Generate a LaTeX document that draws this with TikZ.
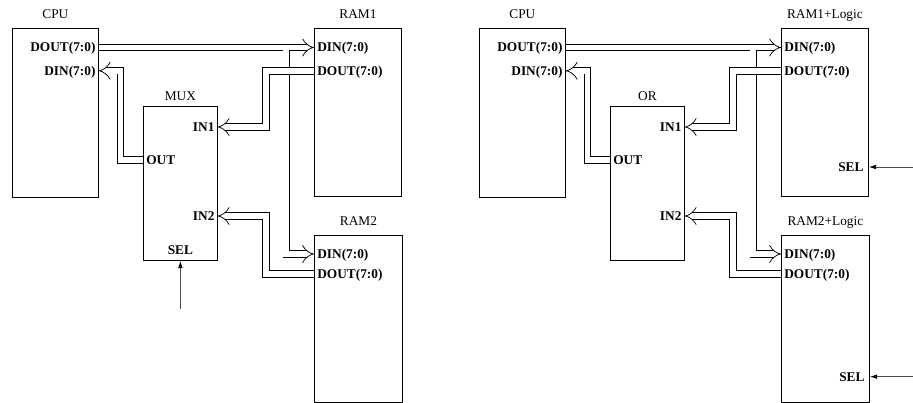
\documentclass[tikz,border=0pt]{standalone}
\usepackage{fontspec}
\setmainfont{Liberation Serif}
\usetikzlibrary{arrows.meta, positioning}

\begin{document}
\begin{tikzpicture}[x=0.75pt, y=-0.75pt, line width=0.6pt,
    blk/.style={draw, anchor=north west, inner sep=0pt},
    boxname/.style={anchor=base, inner sep=0pt},
    port/.style={font=\bfseries, inner xsep=2.2pt, inner ysep=0pt, text height=6.6pt, text depth=0pt},
    bus/.style={double, double distance=4.3pt, line width=0.55pt, -{Implies[scale=1.3]}},
    selline/.style={draw=black!70, -{Latex[length=5.5pt, width=3.5pt, black]}}]
    \useasboundingbox (0,0) rectangle (913,403);

    % CPU, MUX and the two RAMs
    \node[blk, minimum width=64.5pt, minimum height=126.75pt] (cpu) at (12,28) {};
    \node[blk, minimum width=55.5pt, minimum height=115.5pt] (mux) at (143,106) {};
    \node[blk, minimum width=65.25pt, minimum height=126pt] (ram1) at (314,28) {};
    \node[blk, minimum width=66pt, minimum height=125.25pt] (ram2) at (314,235) {};

    \node[above=6.75pt of cpu.north, boxname] (cpuT) {CPU};
    \node[above=4.2pt of mux.north, boxname] (muxT) {MUX};
    \node[above=6.75pt of ram1.north, boxname] (ram1T) {RAM1};
    \node[above=7.5pt of ram2.north, boxname] (ram2T) {RAM2};

    \node[port, anchor=east] (cpuDout) at ([yshift=-14.6pt]cpu.north east) {DOUT(7:0)};
    \node[port, anchor=east] (cpuDin) at ([yshift=-32.1pt]cpu.north east) {DIN(7:0)};
    \node[port, anchor=east] (muxIn1) at ([yshift=-15.75pt]mux.north east) {IN1};
    \node[port, anchor=west] (muxOut) at ([yshift=-40.5pt]mux.north west) {OUT};
    \node[port, anchor=east] (muxIn2) at ([yshift=-82.5pt]mux.north east) {IN2};
    \node[port, anchor=south] (muxSel) at ([yshift=4.5pt]mux.south) {SEL};
    \node[port, anchor=west] (ram1Din) at ([yshift=-14.6pt]ram1.north west) {DIN(7:0)};
    \node[port, anchor=west] (ram1Dout) at ([yshift=-32.25pt]ram1.north west) {DOUT(7:0)};
    \node[port, anchor=west] (ram2Din) at ([yshift=-14.25pt]ram2.north west) {DIN(7:0)};
    \node[port, anchor=west] (ram2Dout) at ([yshift=-29.25pt]ram2.north west) {DOUT(7:0)};

    \coordinate[right=140.6pt of cpuDout.east] (cpuTap);
    \coordinate[below=36pt of mux.south] (muxSelIn);

    \draw[bus] (cpuDout.east) -- (ram1Din.west);
    \draw[bus] ([yshift=-2.15pt]cpuTap) |- (ram2Din.west);
    \draw[bus] (ram1Dout.west) -- ++(-48,0) |- (muxIn1.east);
    \draw[bus] (ram2Dout.west) -- ++(-48,0) |- (muxIn2.east);
    \draw[bus] (muxOut.west) -- ++(-22.5,0) |- (cpuDin.east);
    \draw[selline] (muxSelIn) -- (mux.south);

    % same bus, OR gate and RAMs with their own select logic
    \begin{scope}[xshift=350.25pt]
    \node[blk, minimum width=64.5pt, minimum height=126.75pt] (rcpu) at (12,28) {};
    \node[blk, minimum width=55.5pt, minimum height=115.5pt] (or) at (143,106) {};
    \node[blk, minimum width=65.25pt, minimum height=126pt] (rram1) at (314,28) {};
    \node[blk, minimum width=66pt, minimum height=125.25pt] (rram2) at (314,235) {};

    \node[above=6.75pt of rcpu.north, boxname] (rcpuT) {CPU};
    \node[above=4.2pt of or.north, boxname] (orT) {OR};
    \node[above=6.75pt of rram1.north, boxname] (rram1T) {RAM1+Logic};
    \node[above=7.5pt of rram2.north, boxname] (rram2T) {RAM2+Logic};

    \node[port, anchor=east] (rcpuDout) at ([yshift=-14.6pt]rcpu.north east) {DOUT(7:0)};
    \node[port, anchor=east] (rcpuDin) at ([yshift=-32.1pt]rcpu.north east) {DIN(7:0)};
    \node[port, anchor=east] (orIn1) at ([yshift=-15.75pt]or.north east) {IN1};
    \node[port, anchor=west] (orOut) at ([yshift=-40.5pt]or.north west) {OUT};
    \node[port, anchor=east] (orIn2) at ([yshift=-82.5pt]or.north east) {IN2};
    \node[port, anchor=west] (rram1Din) at ([yshift=-14.6pt]rram1.north west) {DIN(7:0)};
    \node[port, anchor=west] (rram1Dout) at ([yshift=-32.25pt]rram1.north west) {DOUT(7:0)};
    \node[port, anchor=east] (rram1Sel) at ([xshift=-1.5pt, yshift=-104.25pt]rram1.north east) {SEL};
    \node[port, anchor=west] (rram2Din) at ([yshift=-14.25pt]rram2.north west) {DIN(7:0)};
    \node[port, anchor=west] (rram2Dout) at ([yshift=-29.25pt]rram2.north west) {DOUT(7:0)};
    \node[port, anchor=east] (rram2Sel) at ([xshift=-1.5pt, yshift=-106.25pt]rram2.north east) {SEL};

    \coordinate[right=140.6pt of rcpuDout.east] (rcpuTap);

    \draw[bus] (rcpuDout.east) -- (rram1Din.west);
    \draw[bus] ([yshift=-2.15pt]rcpuTap) |- (rram2Din.west);
    \draw[bus] (rram1Dout.west) -- ++(-48,0) |- (orIn1.east);
    \draw[bus] (rram2Dout.west) -- ++(-48,0) |- (orIn2.east);
    \draw[bus] (orOut.west) -- ++(-22.5,0) |- (rcpuDin.east);
    \end{scope}

    \coordinate (sel1In) at (rram1Sel.east -| 913,0);
    \coordinate (sel2In) at (rram2Sel.east -| 913,0);
    \draw[selline] (sel1In) -- (sel1In -| rram1.east);
    \draw[selline] (sel2In) -- (sel2In -| rram2.east);
\end{tikzpicture}
\end{document}
